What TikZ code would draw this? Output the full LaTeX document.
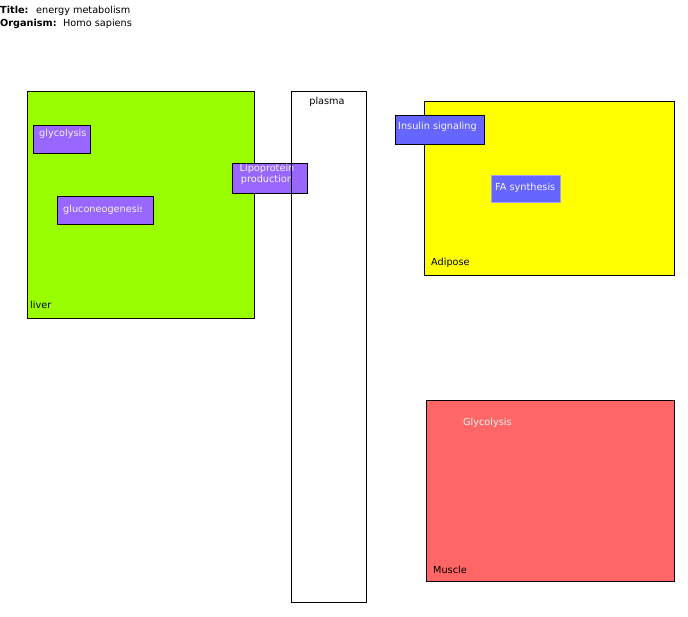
\documentclass[tikz,border=0pt]{standalone}
\usepackage{fontspec}
\setmainfont{DejaVu Sans}
\definecolor{liverc}{HTML}{99FF00}
\definecolor{adipc}{HTML}{FFFF00}
\definecolor{musc}{HTML}{FF6666}
\definecolor{purp}{HTML}{9966FF}
\definecolor{blu}{HTML}{6666FF}
\begin{document}
\begin{tikzpicture}[x=1pt,y=-1pt,
  every node/.style={font=\fontsize{9.7}{11.3}\selectfont},
  comp/.style={draw=black,line width=0.8pt,anchor=north west,inner sep=0pt},
  proc/.style={draw=black,line width=0.8pt,anchor=north west,inner sep=0pt},
  lbl/.style={anchor=base west,inner sep=0pt},
  wlbl/.style={anchor=base west,inner sep=0pt,text=white!92!gray}]
\useasboundingbox (0,0) rectangle (688,616);
% header
\node[lbl] (tt) at (0,13) {\textbf{Title:}};
\node[lbl] (tv) at (36,13) {energy metabolism};
\node[lbl] (ot) at (0,26.5) {\textbf{Organism:}};
\node[lbl] (ov) at (63,26.5) {Homo sapiens};
% liver
\node[comp,fill=liverc,minimum width=227,minimum height=227] (liver) at (26.5,90.5) {};
\node[lbl] (liverl) at (30,308) {liver};
\node[proc,fill=purp,minimum width=57,minimum height=28] (gly) at (33,124.5) {};
\node[wlbl] (glyl) at (39,136) {glycolysis};
\node[proc,fill=purp,minimum width=96,minimum height=28] (gng) at (56.5,195.5) {};
\begin{scope}
\clip (57,196) rectangle (141,224);
\node[wlbl] (gngl) at (63,212.5) {gluconeogenesis};
\end{scope}
% plasma
\fill[white] (291,91) rectangle (366,602);
\node[proc,fill=purp,minimum width=75,minimum height=30] (lipo) at (231.5,162.5) {};
\node[anchor=center,inner sep=0pt,align=center,text=white!92!gray] (lipol) at (267,174) {Lipoprotein\\production};
\node[draw=black,line width=0.8pt,anchor=north west,inner sep=0pt,minimum width=75,minimum height=511] (plasma) at (291,90.5) {};
\node[anchor=base,inner sep=0pt] (plasmal) at (327,104) {plasma};
% adipose
\node[comp,fill=adipc,minimum width=250,minimum height=174] (adip) at (423.5,100.5) {};
\node[lbl] (adipl) at (431,265) {Adipose};
\node[proc,fill=blu,minimum width=89,minimum height=29] (ins) at (395,115) {};
\node[wlbl] (insl) at (398,129) {Insulin signaling};
\node[draw=blu!60!white,line width=0.8pt,fill=blu,anchor=north west,inner sep=0pt,minimum width=69,minimum height=27] (fa) at (491,175) {};
\node[wlbl] (fal) at (495,190) {FA synthesis};
% muscle
\node[comp,fill=musc,minimum width=248,minimum height=181] (mus) at (425.5,399.5) {};
\node[wlbl] (mgl) at (463,425.5) {Glycolysis};
\node[lbl] (musl) at (433,573.5) {Muscle};
\end{tikzpicture}
\end{document}
